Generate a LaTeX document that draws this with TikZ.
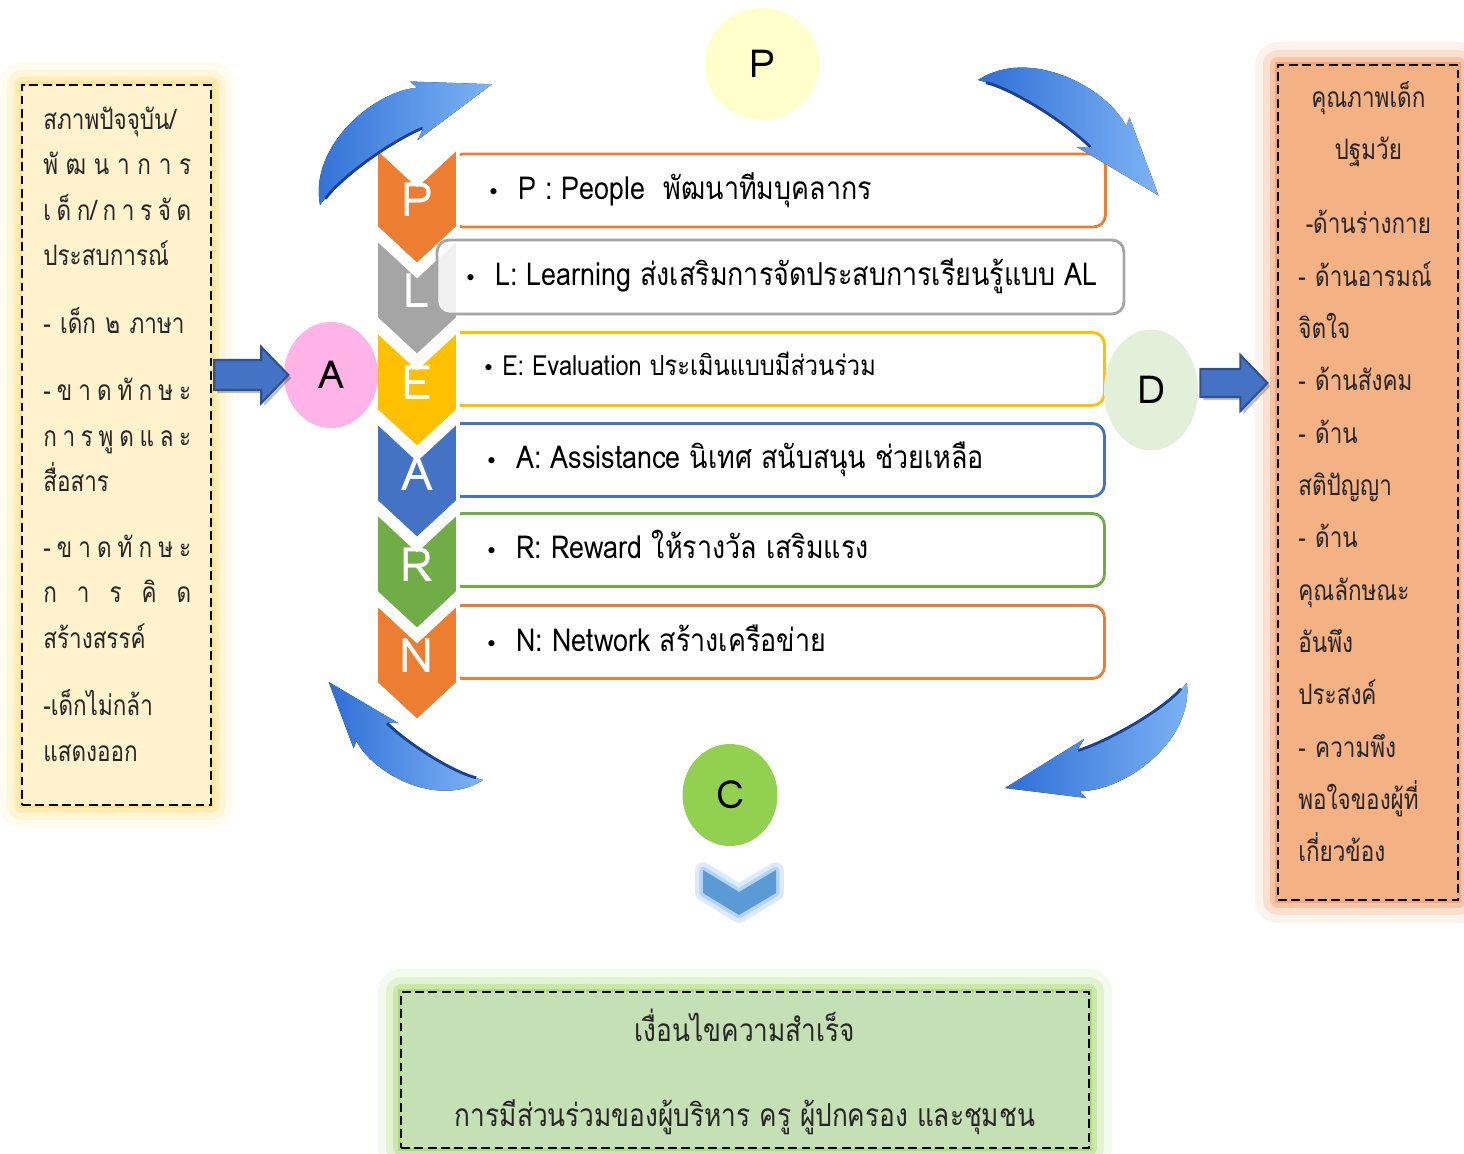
\documentclass[tikz,border=0pt]{standalone}
\usepackage{fontspec}
\setmainfont{Loma}[Script=Thai]
\newfontfamily\narrowthai{Loma}[Script=Thai, FakeStretch=0.8]
\newfontfamily\rowfont{Loma}[Script=Thai, FakeStretch=0.85]
\newfontfamily\condthai{Loma}[Script=Thai, FakeStretch=0.83]
\newfontfamily\bulfont{DejaVu Sans}
\usetikzlibrary{shapes.geometric,calc}

\definecolor{cOrange}{HTML}{ED7D31}
\definecolor{cGray}{HTML}{A5A5A5}
\definecolor{cGold}{HTML}{FFC000}
\definecolor{cBlue}{HTML}{4472C4}
\definecolor{cBlueDark}{HTML}{2F528F}
\definecolor{cGreen}{HTML}{70AD47}
\definecolor{cCream}{HTML}{FFF2CC}
\definecolor{cCreamGlow}{HTML}{FFD966}
\definecolor{cPeach}{HTML}{F4B183}
\definecolor{cPeachGlow}{HTML}{F08A4B}
\definecolor{cSage}{HTML}{C5E0B4}
\definecolor{cSageGlow}{HTML}{92D050}
\definecolor{cPale}{HTML}{FFFFCC}
\definecolor{cPink}{HTML}{FFB3E6}
\definecolor{cMint}{HTML}{E2F0D9}
\definecolor{cLime}{HTML}{92D050}
\definecolor{cText}{HTML}{262626}
\definecolor{cArrowDeep}{HTML}{2F6FD6}
\definecolor{cArrowLite}{HTML}{7DB4F4}
\definecolor{cArrowDark}{HTML}{1B3F91}
\definecolor{cChev}{HTML}{5B9BD5}
\definecolor{cChevGlow}{HTML}{9DC3F6}

\newcommand{\bul}{\makebox[0.62cm][l]{\bulfont\fontsize{12}{14}\selectfont •}}
\newcommand{\spr}[1]{\makebox[2.96cm][s]{#1}}

% chevron: top y, colour, letter
\newcommand{\chevron}[3]{%
  \filldraw[fill=#2, draw=white, line width=2pt] (376,#1) -- (417,#1+38) -- (458,#1)
    -- (458,#1+80) -- (417,#1+118) -- (376,#1+80) -- cycle;
  \node[chevtxt] (chev#3) at (417,#1+53) {#3};
}

\tikzset{
  rowbox/.style={draw=#1, line width=1.6pt, fill=white, rounded corners=0.24cm,
    minimum width=13.1cm, minimum height=1.46cm, inner sep=0pt},
  rowtxt/.style={anchor=base west, inner sep=0pt, text=black,
    font=\rowfont\fontsize{18}{22}\selectfont},
  chevtxt/.style={text=white, inner sep=0pt, font=\fontsize{27}{30}\selectfont},
  letter/.style={ellipse, inner sep=0pt, font=\fontsize{22}{24}\selectfont},
  notebox/.style={draw=black, line width=1.5pt, dash pattern=on 5pt off 2.6pt,
    inner sep=0pt,
    preaction={draw=#1, solid, line width=26pt, opacity=0.1, line join=round},
    preaction={draw=#1, solid, line width=17pt, opacity=0.18, line join=round},
    preaction={draw=#1, solid, line width=9pt, opacity=0.3, line join=round},
    preaction={draw=#1, solid, line width=3pt, opacity=0.5}},
  notetxt/.style={anchor=base west, inner sep=0pt, align=left, text=cText},
  blockarrow/.style={fill=cBlue, draw=cBlueDark, line width=1.2pt, line join=miter},
  turnarrow/.pic={
    \fill[left color=cArrowDeep, right color=cArrowLite]
      (0,0) .. controls (25,-55) and (110,-62) .. (147,-40) -- (145,-49) -- (210,0)
      -- (117,3) -- (130,-4) .. controls (90,-12) and (30,-10) .. (0,0) -- cycle;
    \draw[cArrowDark, line width=1.6pt]
      (128,-4) .. controls (90,-12) and (30,-10) .. (8,-2);
  },
}

\begin{document}
\begin{tikzpicture}[x=0.02cm, y=-0.02cm]
\useasboundingbox (0,0) rectangle (1464,1153);

% side and bottom boxes
\node[notebox=cCreamGlow, fill=cCream, minimum width=3.78cm, minimum height=14.4cm] (leftbox) at (116.5,445) {};
\node[notebox=cPeachGlow, fill=cPeach, minimum width=3.6cm, minimum height=16.7cm] (rightbox) at (1368,482.5) {};
\node[notebox=cSageGlow, fill=cSage, minimum width=13.76cm, minimum height=3.12cm] (bottombox) at (745,1070) {};

\node[notetxt, text width=3.5cm, font=\narrowthai\fontsize{16}{25.9}\selectfont] (lefttxt) at (43,129) {%
สภาพปัจจุบัน/\\
\spr{พั\hfil ฒ\hfil น\hfil า\hfil ก\hfil า\hfil ร}\\
\spr{เ\hfil ด็\hfil ก/\hfil ก\hfil า\hfil ร\hfil จั\hfil ด}\\
ประสบการณ์\\[0.44cm]
- เด็ก ๒ ภาษา\\[0.44cm]
\spr{-\hfil ข\hfil า\hfil ด\hfil ทั\hfil ก\hfil ษ\hfil ะ}\\
\spr{ก\hfil า\hfil ร\hfil พู\hfil ด\hfil แ\hfil ล\hfil ะ}\\
สื่อสาร\\[0.4cm]
\spr{-\hfil ข\hfil า\hfil ด\hfil ทั\hfil ก\hfil ษ\hfil ะ}\\
\spr{ก\hfil า\hfil ร\hfil คิ\hfil ด}\\
สร้างสรรค์\\[0.44cm]
-เด็กไม่กล้า\\
แสดงออก};

\node[notetxt, text width=3.3cm, font=\narrowthai\fontsize{16}{29.8}\selectfont] (righttxt) at (1298,107) {%
\makebox[2.8cm]{คุณภาพเด็ก}\\
\makebox[2.8cm]{ปฐมวัย}\\[0.44cm]
\makebox[2.8cm]{-ด้านร่างกาย}\\
- ด้านอารมณ์\\
จิตใจ\\
- ด้านสังคม\\
- ด้าน\\
สติปัญญา\\
- ด้าน\\
คุณลักษณะ\\
อันพึง\\
ประสงค์\\
- ความพึง\\
พอใจของผู้ที่\\
เกี่ยวข้อง};

\node[align=center, text=cText, font=\condthai\fontsize{18}{48}\selectfont] (bottomtxt) at (745,1072) {%
เงื่อนไขความสำเร็จ\\
การมีส่วนร่วมของผู้บริหาร ครู ผู้ปกครอง และชุมชน};

% rows
\node[rowbox=cOrange] (rowP) at (778,190.5) {};
\node[rowbox=cGold] (rowE) at (777,369) {};
\node[rowbox=cBlue] (rowA) at (777,460) {};
\node[rowbox=cGreen] (rowR) at (777,550) {};
\node[rowbox=cOrange] (rowN) at (777,642) {};

\chevron{603}{cOrange}{N}
\chevron{512}{cGreen}{R}
\chevron{421}{cBlue}{A}
\chevron{330}{cGold}{E}
\chevron{238}{cGray}{L}
\chevron{147}{cOrange}{P}

\node[rowbox=cGray, fill opacity=0.85, minimum width=13.74cm, minimum height=1.48cm] (rowL) at (780.5,277) {};

\node[rowtxt] (txtP) at (487,199) {\bul P : People\ \ พัฒนาทีมบุคลากร};
\node[rowtxt] (txtL) at (464,285) {\bul L: Learning ส่งเสริมการจัดประสบการเรียนรู้แบบ AL};
\node[rowtxt, font=\rowfont\fontsize{15.8}{20}\selectfont] (txtE) at (482,375) {\makebox[0.4cm][l]{\bulfont\fontsize{12}{14}\selectfont •}E: Evaluation ประเมินแบบมีส่วนร่วม};
\node[rowtxt] (txtA) at (485,468) {\bul A: Assistance นิเทศ สนับสนุน ช่วยเหลือ};
\node[rowtxt] (txtR) at (485,558) {\bul R: Reward ให้รางวัล เสริมแรง};
\node[rowtxt] (txtN) at (485,651) {\bul N: Network สร้างเครือข่าย};

% PLEARN circles
\node[letter, fill=cPale, minimum width=2.3cm, minimum height=2.24cm] (cP) at (762,64) {P};
\node[letter, fill=cPink, minimum width=1.88cm, minimum height=2.12cm] (cA) at (331,375) {A};
\node[letter, fill=cMint, minimum width=1.88cm, minimum height=2.42cm] (cD) at (1151,390) {D};
\node[letter, fill=cLime, minimum width=1.9cm, minimum height=2.04cm] (cC) at (730,795) {C};

% block arrows
\coordinate (inA) at (leftbox.east |- cA.center);
\coordinate (outD) at (cD.east);
\fill[black, opacity=0.25, shift={(inA)}] (5,-12) -- (52,-12) -- (52,-25) -- (79,3) -- (52,31) -- (52,18) -- (5,18) -- cycle;
\draw[blockarrow, shift={(inA)}] (2,-15) -- (49,-15) -- (49,-28) -- (76,0) -- (49,28) -- (49,15) -- (2,15) -- cycle;
\fill[black, opacity=0.25, shift={(outD)}] (5,-18) -- (45,-18) -- (45,-32) -- (72,-4) -- (45,24) -- (45,10) -- (5,10) -- cycle;
\draw[blockarrow, shift={(outD)}] (2,-21) -- (42,-21) -- (42,-35) -- (69,-7) -- (42,21) -- (42,7) -- (2,7) -- cycle;

% turning arrows
\pic[rotate=35.1] at (320,205) {turnarrow};
\pic[rotate=-32.6, scale=1.02] at (978,80) {turnarrow};
\pic[rotate=147.6, scale=0.87] at (483,780) {turnarrow};
\pic[rotate=210] at (1187,683) {turnarrow};

% down chevron
\draw[cChevGlow, line width=9pt, opacity=0.35, line join=round] (703,870) -- (739,892) -- (776,870) -- (776,893) -- (739,915) -- (703,893) -- cycle;
\draw[cChevGlow, line width=4pt, opacity=0.6, line join=round] (703,870) -- (739,892) -- (776,870) -- (776,893) -- (739,915) -- (703,893) -- cycle;
\fill[cChev] (703,870) -- (739,892) -- (776,870) -- (776,893) -- (739,915) -- (703,893) -- cycle;
\end{tikzpicture}
\end{document}
